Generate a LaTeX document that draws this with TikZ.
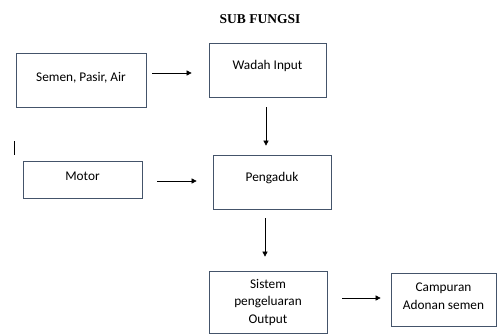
\documentclass[tikz,border=0pt]{standalone}
\usepackage{fontspec}
\setmainfont{Carlito}
\newfontfamily\titlefont{Liberation Serif}
\usetikzlibrary{arrows.meta}
\definecolor{boxline}{RGB}{68,84,106}
\tikzset{
	blok/.style={draw=boxline, line width=0.7pt, align=center, inner sep=0pt, font=\fontsize{13.3}{17.5}\selectfont},
	panah/.style={-{Triangle[length=5pt,width=5pt]}, line width=0.6pt}
}

\begin{document}
\begin{tikzpicture}[x=1pt,y=-1pt]
			\useasboundingbox (0,0) rectangle (497,334);
			\node[font=\titlefont\bfseries\fontsize{13.5}{15}\selectfont] (judul) at (260,19) {SUB FUNGSI};
			\node[blok, minimum width=130pt, minimum height=54pt, text depth=7pt] (sem) at (81,80) {Semen, Pasir, Air};
			\node[blok, minimum width=117pt, minimum height=54pt, text depth=10pt] (wad) at (267.5,70) {Wadah Input};
			\node[blok, minimum width=119pt, minimum height=37pt, text depth=7pt] (mot) at (82.5,179.5) {Motor};
			\node[blok, minimum width=118pt, minimum height=54pt, text depth=10pt] (peng) at (272,182) {Pengaduk};
			\node[blok, minimum width=118pt, minimum height=62pt] (sis) at (268,302) {Sistem\\pengeluaran\\Output};
			\node[blok, minimum width=105pt, minimum height=53pt, text depth=7pt] (camp) at (443.5,299.5) {Campuran\\Adonan semen};
			\draw[line width=0.8pt] (14,141) -- (14,155);
			\draw[panah, shorten <=6pt, shorten >=17pt] ([yshift=7pt]sem.east) -- ([yshift=7pt]sem.east -| wad.west);
			\draw[panah, shorten <=10pt, shorten >=9pt] ([xshift=-1.5pt]wad.south) -- ([xshift=-1.5pt]wad.south |- peng.north);
			\draw[panah, shorten <=15pt, shorten >=16pt] ([yshift=-1.5pt]mot.east) -- ([yshift=-1.5pt]mot.east -| peng.west);
			\draw[panah, shorten <=9pt, shorten >=14pt] ([xshift=-3pt]sis.north |- peng.south) -- ([xshift=-3pt]sis.north);
			\draw[panah, shorten <=15pt, shorten >=10pt] ([yshift=4pt]sis.east) -- ([yshift=4pt]sis.east -| camp.west);
		\end{tikzpicture}
\end{document}
